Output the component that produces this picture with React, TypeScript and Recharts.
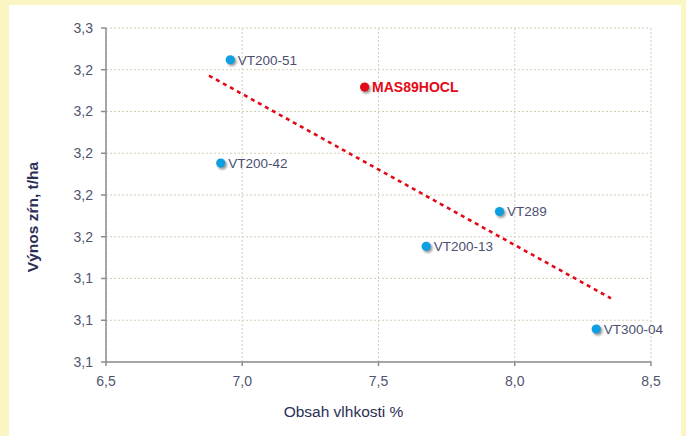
import React from 'react'
import { ScatterChart, Scatter, XAxis, YAxis, CartesianGrid, ReferenceLine, Label } from 'recharts'

// varieties (blue points)
const varieties = ['VT200-51', 'VT200-42', 'VT289', 'VT200-13', 'VT300-04']
const moisture = [6.956, 6.921, 7.944, 7.675, 8.299]
const yieldValues = [3.2448, 3.1953, 3.1721, 3.1554, 3.1158]

// highlighted hybrid (red point)
const hybridNames = ['MAS89HOCL']
const hybridMoisture = [7.449]
const hybridYield = [3.2317]

// linear trend endpoints
const trendX = [6.878, 8.353]
const trendY = [3.2372, 3.1305]

const xTicks = [6.5, 7.0, 7.5, 8.0, 8.5]
const yTicks = [3.10, 3.12, 3.14, 3.16, 3.18, 3.20, 3.22, 3.24, 3.26]

const FONT = '"Liberation Sans", Arial, sans-serif'
const BLUE = '#0d9fe0'
const RED = '#e30a17'
const NAVY = '#2b2e55'
const TICK = '#50556f'

const fmt = (v: number) => v.toFixed(1).replace('.', ',')

const varietyData = varieties.map((name, i) => ({ name, x: moisture[i], y: yieldValues[i] }))
const hybridData = hybridNames.map((name, i) => ({ name, x: hybridMoisture[i], y: hybridYield[i] }))

function makeDot(color: string, textColor: string, bold: boolean, fontSize: number) {
  return (props: any) => {
    const { cx, cy, payload } = props
    return (
      <g>
        <circle cx={cx + 1.6} cy={cy + 1.8} r={4.7} fill="#555" opacity={0.6} filter="url(#dotShadow)" />
        <circle cx={cx} cy={cy} r={4.6} fill={color} />
        <text
          x={cx + 7.5}
          y={cy}
          dy="0.36em"
          fill={textColor}
          fontSize={fontSize}
          fontWeight={bold ? 700 : 400}
          fontFamily={FONT}
        >
          {payload.name}
        </text>
      </g>
    )
  }
}

const renderXTitle = (props: any) => {
  const vb = props.viewBox
  return (
    <text x={vb.x + vb.width / 2 - 35} y={vb.y + 55} textAnchor="middle" fill={NAVY} fontSize={15.5} fontFamily={FONT}>
      Obsah vlhkosti %
    </text>
  )
}

const renderYTitle = (props: any) => {
  const vb = props.viewBox
  const x = vb.x - 14
  const y = vb.y + vb.height / 2 + 22
  return (
    <text
      x={x}
      y={y}
      transform={`rotate(-90, ${x}, ${y})`}
      textAnchor="middle"
      dominantBaseline="central"
      fill={NAVY}
      fontSize={15.5}
      fontWeight={700}
      fontFamily={FONT}
    >
      Výnos zŕn, t/ha
    </text>
  )
}

export default function App() {
  return (
    <div style={{ position: 'absolute', left: 0, top: 0, width: 686, height: 436, background: '#fbf5c3', fontFamily: FONT, overflow: 'hidden' }}>
      <div style={{ position: 'absolute', left: 9, top: 5, width: 672, height: 431, background: '#ffffff' }} />
      <svg width={0} height={0} style={{ position: 'absolute' }}>
        <defs>
          <filter id="dotShadow" x="-50%" y="-50%" width="200%" height="200%">
            <feGaussianBlur stdDeviation="0.9" />
          </filter>
        </defs>
      </svg>
      <div style={{ position: 'absolute', left: 0, top: 0 }}>
        <ScatterChart width={686} height={436} margin={{ top: 28, right: 35, bottom: 24, left: 46 }}>
          <CartesianGrid strokeDasharray="2 2" stroke="#d2d0b8" />
          <XAxis
            type="number"
            dataKey="x"
            domain={[6.5, 8.5]}
            ticks={xTicks}
            tickFormatter={fmt}
            height={50}
            axisLine={{ stroke: '#8c8c8c', strokeWidth: 1.5 }}
            tickLine={{ stroke: '#8c8c8c', strokeWidth: 1.5 }}
            tickSize={4}
            tickMargin={10}
            tick={{ fill: TICK, fontSize: 14, fontFamily: FONT }}
          >
            <Label content={renderXTitle} />
          </XAxis>
          <YAxis
            type="number"
            dataKey="y"
            domain={[3.1, 3.26]}
            ticks={yTicks}
            tickFormatter={fmt}
            width={60}
            axisLine={{ stroke: '#8c8c8c', strokeWidth: 1.5 }}
            tickLine={{ stroke: '#8c8c8c', strokeWidth: 1.5 }}
            tickSize={5}
            tickMargin={8}
            tick={{ fill: TICK, fontSize: 14, fontFamily: FONT }}
          >
            <Label content={renderYTitle} />
          </YAxis>
          <ReferenceLine
            segment={[
              { x: trendX[0], y: trendY[0] },
              { x: trendX[1], y: trendY[1] },
            ]}
            stroke={RED}
            strokeWidth={2.6}
            strokeDasharray="4 4"
          />
          <Scatter data={varietyData} shape={makeDot(BLUE, '#4b5070', false, 13.5)} isAnimationActive={false} />
          <Scatter data={hybridData} shape={makeDot(RED, RED, true, 14)} isAnimationActive={false} />
        </ScatterChart>
      </div>
    </div>
  )
}
